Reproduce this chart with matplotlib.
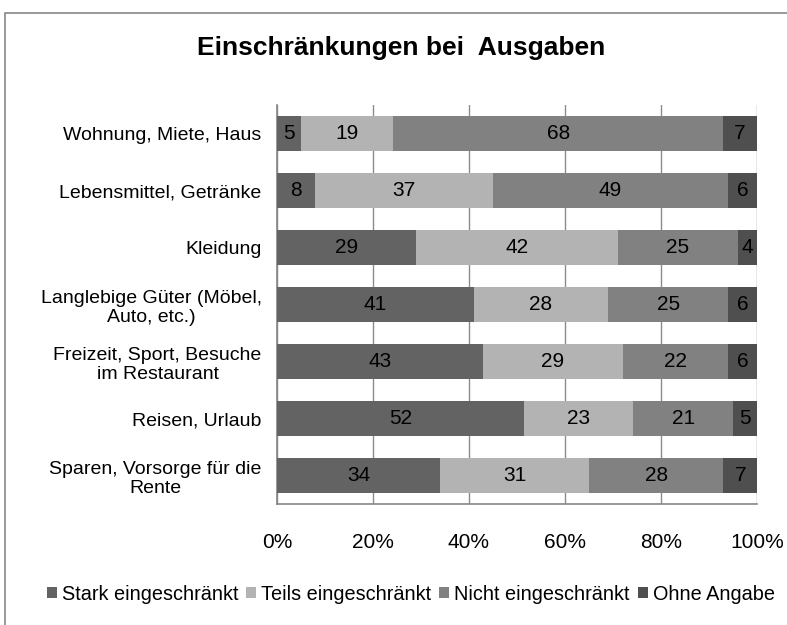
import numpy as np
import matplotlib.pyplot as plt
from matplotlib.patches import Rectangle

plt.rcParams['font.family'] = ['Liberation Sans', 'DejaVu Sans']

kategorien = [
    'Wohnung, Miete, Haus',
    'Lebensmittel, Getränke',
    'Kleidung',
    'Langlebige Güter (Möbel,\nAuto, etc.)',
    'Freizeit, Sport, Besuche\nim Restaurant',
    'Reisen, Urlaub',
    'Sparen, Vorsorge für die\nRente',
]
stark = [5, 8, 29, 41, 43, 52, 34]
teils = [19, 37, 42, 28, 29, 23, 31]
nicht = [68, 49, 25, 25, 22, 21, 28]
ohne = [7, 6, 4, 6, 6, 5, 7]

serien = ['Stark eingeschränkt', 'Teils eingeschränkt', 'Nicht eingeschränkt', 'Ohne Angabe']
farben = ['#636363', '#b3b3b3', '#818181', '#4f4f4f']

werte = np.array([stark, teils, nicht, ohne], dtype=float)
anteile = werte / werte.sum(axis=0)

fig = plt.figure(figsize=(7.87, 6.25), dpi=100)
ax = fig.add_axes([277 / 787, 1 - 504 / 625, 480 / 787, 399 / 625])

y = np.arange(len(kategorien))
links = np.zeros(len(kategorien))
for i, name in enumerate(serien):
    balken = ax.barh(y, anteile[i], left=links, height=0.62, color=farben[i],
                     label=name, zorder=3)
    for j, b in enumerate(balken):
        ax.text(links[j] + anteile[i][j] / 2, y[j], str(int(werte[i][j])),
                ha='center', va='center', fontsize=15, color='black', zorder=4)
    links += anteile[i]

ax.set_xlim(0, 1)
ax.set_ylim(len(kategorien) - 0.5, -0.5)
ax.set_xticks(np.arange(0, 1.01, 0.2))
ax.set_xticklabels([f'{int(v * 100)}%' for v in np.arange(0, 1.01, 0.2)], fontsize=15)
ax.set_yticks(y)
ax.set_yticklabels(kategorien, fontsize=14, multialignment='center')
ax.tick_params(axis='x', length=0, pad=21)
ax.tick_params(axis='y', length=0, pad=11)
ax.grid(axis='x', color='#8c8c8c', linewidth=1, zorder=0)
for s in ['top', 'right']:
    ax.spines[s].set_visible(False)
for s in ['left', 'bottom']:
    ax.spines[s].set_color('#868686')
    ax.spines[s].set_linewidth(1.2)

fig.text(0.51, 1 - 48 / 625, 'Einschränkungen bei  Ausgaben', ha='center', va='center',
         fontsize=19, fontweight='bold')

fig.legend(loc='center', bbox_to_anchor=(0.522, 1 - 594 / 625), ncol=4, frameon=False,
           fontsize=14.3, handlelength=0.5, handleheight=0.5, handletextpad=0.25,
           columnspacing=0.4)

fig.patches.append(Rectangle((5 / 787, -0.05), 1.1, 1 - 13 / 625 + 0.05,
                             transform=fig.transFigure, fill=False,
                             edgecolor='#888888', linewidth=1.2))

fig.savefig('out.png', dpi=100)
